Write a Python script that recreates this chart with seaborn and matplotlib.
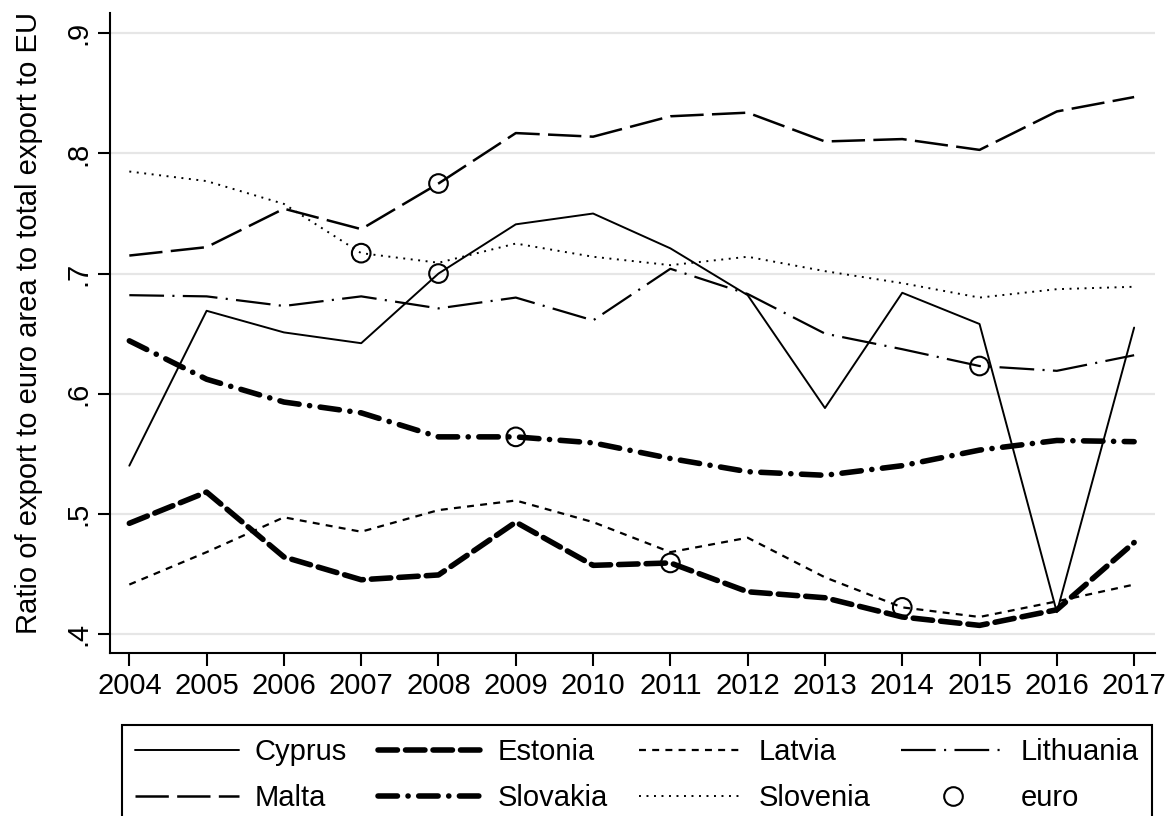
import matplotlib
matplotlib.use("Agg")
import matplotlib.pyplot as plt
import seaborn as sns
import pandas as pd
from matplotlib.lines import Line2D

years = list(range(2004, 2018))
cyprus    = [0.540, 0.669, 0.651, 0.642, 0.700, 0.741, 0.750, 0.721, 0.682, 0.588, 0.684, 0.658, 0.418, 0.655]
estonia   = [0.492, 0.518, 0.464, 0.445, 0.449, 0.493, 0.457, 0.459, 0.435, 0.430, 0.414, 0.407, 0.420, 0.476]
latvia    = [0.441, 0.468, 0.497, 0.485, 0.503, 0.511, 0.493, 0.468, 0.480, 0.447, 0.422, 0.414, 0.427, 0.441]
lithuania = [0.682, 0.681, 0.673, 0.681, 0.671, 0.680, 0.661, 0.704, 0.683, 0.650, 0.637, 0.623, 0.619, 0.632]
malta     = [0.715, 0.722, 0.754, 0.737, 0.775, 0.817, 0.814, 0.831, 0.834, 0.810, 0.812, 0.803, 0.835, 0.847]
slovakia  = [0.644, 0.612, 0.593, 0.584, 0.564, 0.564, 0.559, 0.546, 0.535, 0.532, 0.540, 0.553, 0.561, 0.560]
slovenia  = [0.785, 0.777, 0.758, 0.717, 0.709, 0.725, 0.714, 0.707, 0.714, 0.702, 0.692, 0.680, 0.687, 0.689]

countries = ["Cyprus", "Estonia", "Latvia", "Lithuania", "Malta", "Slovakia", "Slovenia"]
series = [cyprus, estonia, latvia, lithuania, malta, slovakia, slovenia]
euro_adoption = {"Cyprus": 2008, "Estonia": 2011, "Latvia": 2014, "Lithuania": 2015,
                 "Malta": 2008, "Slovakia": 2009, "Slovenia": 2007}

y_ticks = [0.4, 0.5, 0.6, 0.7, 0.8, 0.9]
y_ticklabels = [".4", ".5", ".6", ".7", ".8", ".9"]
ylabel = "Ratio of export to euro area to total export to EU"

rows = []
for c, vals in zip(countries, series):
    for yr, v in zip(years, vals):
        rows.append({"country": c, "year": yr, "ratio": v, "euro": yr == euro_adoption[c]})
df = pd.DataFrame(rows)

sns.set_theme(style="white")
plt.rcParams["font.family"] = ["Liberation Sans", "DejaVu Sans"]
plt.rcParams["lines.scale_dashes"] = False
for k in ["text.color", "axes.labelcolor", "xtick.color", "ytick.color", "axes.edgecolor"]:
    plt.rcParams[k] = "black"

FS = 21

styles = {
    "Cyprus":    dict(lw=1.4, ls="-", cap="butt"),
    "Estonia":   dict(lw=4.0, ls=(0, (14.0, 5.8)), cap="round"),
    "Latvia":    dict(lw=1.6, ls=(0, (5.0, 4.5)), cap="butt"),
    "Lithuania": dict(lw=1.6, ls=(0, (25, 6, 1.5, 6)), cap="butt"),
    "Malta":     dict(lw=1.8, ls=(0, (24, 6)), cap="butt"),
    "Slovakia":  dict(lw=4.0, ls=(0, (14.0, 7.6, 0.1, 7.6)), cap="round"),
    "Slovenia":  dict(lw=1.4, ls=(0, (1.4, 4.0)), cap="butt"),
}

fig = plt.figure(figsize=(11.7, 8.16), dpi=100)
ax = fig.add_axes([110/1170, 163/816, (1155-110)/1170, (653-13)/816])

handles = {}
for c in countries:
    sub = df[df.country == c]
    st = styles[c]
    sns.lineplot(data=sub, x="year", y="ratio", ax=ax, color="black",
                 linewidth=st["lw"], linestyle=st["ls"], dash_capstyle=st["cap"],
                 legend=False)
    handles[c] = Line2D([], [], color="black", lw=st["lw"], ls=st["ls"],
                        dash_capstyle=st["cap"])

eu = df[df.euro]
sns.scatterplot(data=eu, x="year", y="ratio", ax=ax, marker="o", s=180,
                facecolors="none", edgecolors="black", linewidths=1.5, zorder=5, legend=False)
handles["euro"] = Line2D([], [], ls="none", marker="o", markersize=13.4, markerfacecolor="none",
                         markeredgecolor="black", markeredgewidth=1.5)

ax.set_xlim(2003.75, 2017.27)
ax.set_ylim(0.384, 0.917)
ax.set_xticks(years)
ax.set_xticklabels([str(y) for y in years], fontsize=FS)
ax.set_yticks(y_ticks)
ax.set_yticklabels(y_ticklabels, fontsize=FS, rotation=90, va="center")
ax.set_xlabel("")
ax.set_ylabel(ylabel, fontsize=FS)
ax.yaxis.set_label_coords(-0.064, 0.516)
ax.grid(axis="y", color="#e6e6e6", lw=1.6)
ax.grid(axis="x", visible=False)
ax.set_axisbelow(True)
for s in ["top", "right"]:
    ax.spines[s].set_visible(False)
for s in ["left", "bottom"]:
    ax.spines[s].set_color("black")
    ax.spines[s].set_linewidth(1.5)
ax.tick_params(axis="both", direction="out", length=9, width=1.5, color="black",
               left=True, bottom=True, labelcolor="black")
ax.tick_params(axis="x", pad=5)
ax.tick_params(axis="y", pad=4)

order = ["Cyprus", "Malta", "Estonia", "Slovakia", "Latvia", "Slovenia", "Lithuania", "euro"]
leg = fig.legend([handles[k] for k in order], order, ncol=4, loc="upper left",
                 bbox_to_anchor=(122/1170, 1 - 725/816),
                 fontsize=FS, frameon=True, fancybox=False, framealpha=1,
                 edgecolor="black", handlelength=3.55, handletextpad=0.55,
                 labelspacing=0.62, borderpad=0.45, borderaxespad=0.0, columnspacing=1.06)
leg.get_frame().set_linewidth(1.5)
for t in leg.get_texts():
    t.set_color("black")

fig.savefig("out.png", dpi=100)
